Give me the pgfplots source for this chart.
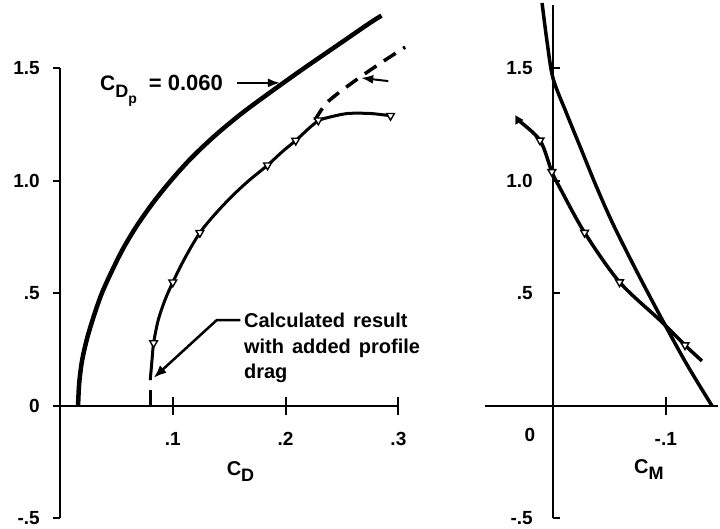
\documentclass[border=0pt]{standalone}
\usepackage{fontspec}
\setmainfont{Liberation Sans}
\usepackage{pgfplots}
\pgfplotsset{compat=1.18}
\usetikzlibrary{arrows.meta}

\pgfplotstableread{
cd cl
0.016 0.00
0.017 0.10
0.0195 0.20
0.024 0.30
0.030 0.40
0.037 0.50
0.046 0.60
0.056 0.70
0.068 0.80
0.082 0.90
0.098 1.00
0.116 1.10
0.137 1.20
0.161 1.30
0.188 1.40
0.216 1.50
0.245 1.60
0.274 1.70
0.285 1.735
}\outer

\pgfplotstableread{
cd cl
0.080 0.115
0.0815 0.20
0.083 0.28
0.087 0.38
0.093 0.47
0.100 0.55
0.111 0.66
0.124 0.77
0.137 0.85
0.152 0.93
0.167 1.00
0.184 1.07
0.197 1.13
0.209 1.18
0.222 1.24
0.230 1.27
0.240 1.285
0.255 1.30
0.275 1.30
0.293 1.29
}\inner

\pgfplotstableread{
cd cl
0.083 0.28
0.100 0.55
0.124 0.77
0.184 1.07
0.209 1.18
0.229 1.27
0.293 1.29
}\innermarks

\pgfplotstableread{
cd cl
0.226 1.27
0.237 1.35
0.260 1.44
0.283 1.52
0.306 1.595
}\dashed

\pgfplotstableread{
cm cl
0.031 1.27
0.0115 1.18
0.001 1.04
-0.006 0.97
-0.028 0.77
-0.059 0.55
-0.095 0.38
-0.117 0.27
-0.132 0.20
}\mcurve

\pgfplotstableread{
cm cl
0.0115 1.18
0.001 1.04
-0.028 0.77
-0.059 0.55
-0.117 0.27
}\mmarks

\pgfplotstableread{
cm cl
0.0097 1.79
0.0053 1.62
0.000 1.456
-0.012 1.30
-0.025 1.14
-0.038 0.98
-0.053 0.81
-0.074 0.60
-0.095 0.40
-0.118 0.19
-0.141 0.00
}\mtheory

\begin{document}
\begin{tikzpicture}
\path[use as bounding box] (0pt,0pt) rectangle (720pt,529pt);
\pgfplotsset{
  panel/.style={
    scale only axis, axis lines=middle,
    axis line style={-, line width=2.6pt, black},
    clip=false,
    hide obscured x ticks=false, hide obscured y ticks=false,
    major tick length=7pt, minor tick length=18pt,
    xtick align=center, ytick align=outside,
    every tick/.style={black, line width=2pt},
    tick label style={font=\fontsize{19}{20}\selectfont\bfseries, inner sep=1pt},
    xticklabel style={yshift=-22pt},
    yticklabel style={xshift=-12pt},
  },
  triM/.style={mark=triangle*, mark size=4.5pt,
    mark options={solid, fill=white, draw=black, rotate=180, line width=1.4pt}},
}
\begin{axis}[panel, at={(60pt,10.5pt)}, anchor=south west,
  width=338.4pt, height=450pt,
  xmin=0, xmax=0.3, ymin=-0.5, ymax=1.5,
  xtick={0.1,0.2,0.3}, xticklabels={.1,.2,.3}, minor xtick={0.1,0.2,0.3},
  ytick={-0.5,0,0.5,1,1.5}, yticklabels={-.5,0,.5,1.0,1.5}]
\addplot[black, line width=4.5pt, smooth] table[x=cd, y=cl] {\outer};
\addplot[black, line width=3pt, smooth] table[x=cd, y=cl] {\inner};
\addplot[black, line width=3pt] coordinates {(0.080,0) (0.080,0.07)};
\addplot[black, line width=3.5pt, dash pattern=on 14pt off 9pt, smooth] table[x=cd, y=cl] {\dashed};
\addplot[only marks, triM] table[x=cd, y=cl] {\innermarks};
\node[anchor=base west, inner sep=0pt, font=\fontsize{21}{24}\selectfont\bfseries] at (axis cs:0.0355,1.40)
  {C\raisebox{-7pt}{\fontsize{18}{18}\selectfont D\raisebox{-6pt}{\fontsize{14}{14}\selectfont p}}\hspace{12pt}{\fontsize{22}{24}\selectfont=\hspace{6pt}0.060}};
\draw[line width=2pt, -{Latex[length=12pt,width=9pt]}] (axis cs:0.157,1.436) -- (axis cs:0.195,1.436);
\draw[line width=2pt, -{Latex[length=12pt,width=9pt]}] (axis cs:0.291,1.444) -- (axis cs:0.267,1.458);
\draw[line width=2.5pt, -{Latex[length=13pt,width=10pt]}] (axis cs:0.160,0.382) -- (axis cs:0.139,0.382) -- (axis cs:0.083,0.125);
\node[anchor=north west, align=left, inner sep=0pt, font=\fontsize{20}{25.5}\selectfont\bfseries] at (axis cs:0.163,0.413)
  {Calculated\hspace{0.4em}result\\with\hspace{0.4em}added\hspace{0.4em}profile\\drag};
\node[font=\fontsize{20}{24}\selectfont\bfseries] at (axis cs:0.16,-0.29) {C\raisebox{-6pt}{\fontsize{18}{18}\selectfont D}};
\end{axis}

\begin{axis}[panel, at={(485.3pt,10.5pt)}, anchor=south west,
  width=232.4pt, height=513.25pt, x dir=reverse,
  xmin=-0.146, xmax=0.06, ymin=-0.5, ymax=1.78,
  xtick={-0.1}, xticklabels={-.1}, minor xtick={-0.1},
  ytick={-0.5,0.5,1,1.5}, yticklabels={-.5,.5,1.0,1.5}]
\addplot[black, line width=3.5pt, smooth] table[x=cm, y=cl] {\mtheory};
\addplot[black, line width=3.5pt, smooth] table[x=cm, y=cl] {\mcurve};
\addplot[only marks, triM] table[x=cm, y=cl] {\mmarks};
\addplot[only marks, mark=triangle*, mark size=5pt, mark options={fill=black, rotate=150}] coordinates {(0.031,1.27)};
\node[font=\fontsize{19}{20}\selectfont\bfseries] at (axis cs:0.0204,-0.129) {0};
\node[font=\fontsize{20}{24}\selectfont\bfseries] at (axis cs:-0.085,-0.284) {C\raisebox{-6pt}{\fontsize{18}{18}\selectfont M}};
\end{axis}
\end{tikzpicture}
\end{document}
